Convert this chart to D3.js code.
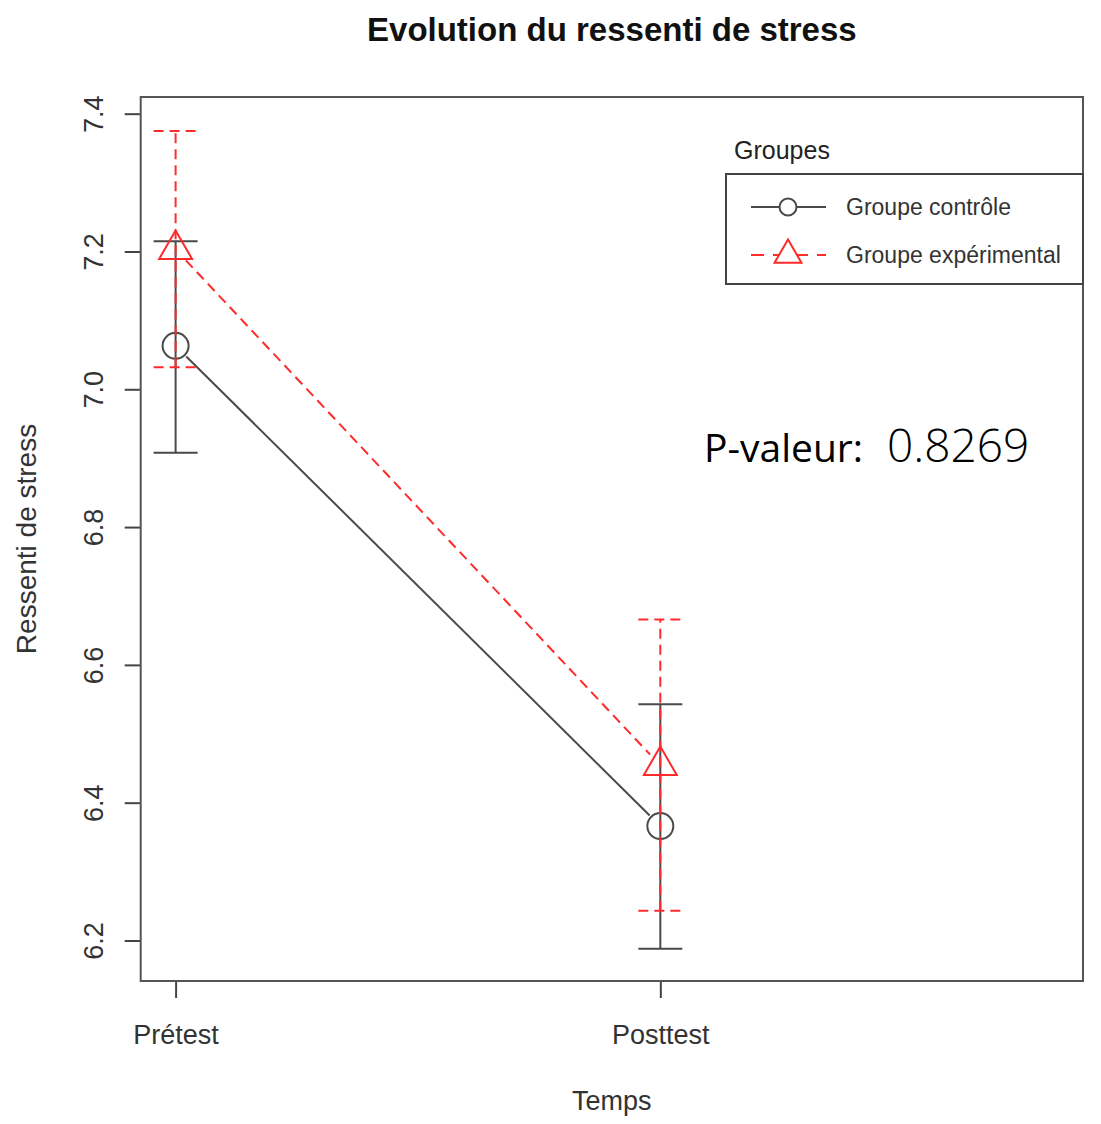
<!DOCTYPE html>
<html>
<head>
<meta charset="utf-8">
<script src="https://cdn.jsdelivr.net/npm/d3@7"></script>
<style>
  html, body { margin: 0; padding: 0; background: #fff; }
  svg { display: block; }
</style>
</head>
<body>
<svg id="chart" width="1101" height="1124"></svg>
<script>
// ---------- data ----------
const categories = ["Prétest", "Posttest"];
const groups = ["Groupe contrôle", "Groupe expérimental"];
const controlMean  = [7.063, 6.366];
const controlLower = [6.908, 6.188];
const controlUpper = [7.215, 6.543];
const expMean  = [7.203, 6.454];
const expLower = [7.032, 6.243];
const expUpper = [7.375, 6.666];
const yTicks = [6.2, 6.4, 6.6, 6.8, 7.0, 7.2, 7.4];
const title = "Evolution du ressenti de stress";
const xTitle = "Temps";
const yTitle = "Ressenti de stress";
const legendTitle = "Groupes";
const pValueLabel = "P-valeur:";
const pValue = "0.8269";

// ---------- layout ----------
const svg = d3.select("#chart");
const L = 140.7, R = 1083, T = 97, B = 981;
const FONT = "'Liberation Sans', Arial, Helvetica, sans-serif";
const TXT = "#333";
const CTRL = "#4a4a4a";
const RED = "#ff2a2a";

const x = d3.scaleLinear().domain([0.928, 2.872]).range([L, R]);
const y = d3.scaleLinear().domain([6.1412, 7.4242]).range([B, T]);

// title
svg.append("text")
  .attr("x", (L + R) / 2).attr("y", 41)
  .attr("text-anchor", "middle")
  .style("font-family", FONT).style("font-weight", "bold")
  .style("font-size", "33px").attr("fill", "#111")
  .text(title);

// y axis
const yAxis = svg.append("g")
  .attr("transform", `translate(${L},0)`)
  .call(d3.axisLeft(y).tickValues(yTicks).tickFormat(d3.format(".1f")).tickSize(16));
yAxis.select(".domain").remove();
yAxis.selectAll(".tick line").attr("stroke", "#444").attr("stroke-width", 2);
yAxis.selectAll(".tick text")
  .attr("x", 0).attr("y", 0).attr("dy", 0)
  .attr("text-anchor", "middle")
  .attr("transform", "translate(-38,0) rotate(-90)")
  .attr("fill", TXT)
  .style("font-family", FONT).style("font-size", "27px");

// x axis
const xAxis = svg.append("g")
  .attr("transform", `translate(0,${B})`)
  .call(d3.axisBottom(x).tickValues([1, 2]).tickFormat(i => categories[i - 1]).tickSize(17));
xAxis.select(".domain").remove();
xAxis.selectAll(".tick line").attr("stroke", "#444").attr("stroke-width", 2);
xAxis.selectAll(".tick text")
  .attr("y", 63).attr("dy", 0)
  .attr("fill", TXT)
  .style("font-family", FONT).style("font-size", "27px");

// axis titles
svg.append("text")
  .attr("x", (L + R) / 2).attr("y", 1110)
  .attr("text-anchor", "middle").attr("fill", TXT)
  .style("font-family", FONT).style("font-size", "27px")
  .text(xTitle);
svg.append("text")
  .attr("transform", `translate(36,${(T + B) / 2}) rotate(-90)`)
  .attr("text-anchor", "middle").attr("fill", TXT)
  .style("font-family", FONT).style("font-size", "28px")
  .text(yTitle);

// plot box
svg.append("rect")
  .attr("x", L).attr("y", T).attr("width", R - L).attr("height", B - T)
  .attr("fill", "none").attr("stroke", "#555").attr("stroke-width", 2);

// helpers
function shortened(p0, p1, g0, g1) {
  const dx = p1[0] - p0[0], dy = p1[1] - p0[1];
  const len = Math.hypot(dx, dy);
  const ux = dx / len, uy = dy / len;
  return [[p0[0] + ux * g0, p0[1] + uy * g0], [p1[0] - ux * g1, p1[1] - uy * g1]];
}
function trianglePath(cx, cy, u) {
  const r = 1.5551 * u, xc = 1.3468 * u, yc = 0.7776 * u;
  return `M${cx},${cy - r}L${cx + xc},${cy + yc}L${cx - xc},${cy + yc}Z`;
}

function drawSeries(mean, lower, upper, color, dash, marker) {
  const g = svg.append("g");
  const capW = 22;
  mean.forEach((m, i) => {
    const cx = x(i + 1);
    g.append("line").attr("x1", cx).attr("x2", cx)
      .attr("y1", y(lower[i])).attr("y2", y(upper[i]))
      .attr("stroke", color).attr("stroke-width", 2).attr("stroke-dasharray", dash);
    [lower[i], upper[i]].forEach(v => {
      g.append("line").attr("x1", cx - capW).attr("x2", cx + capW)
        .attr("y1", y(v)).attr("y2", y(v))
        .attr("stroke", color).attr("stroke-width", 2).attr("stroke-dasharray", dash);
    });
  });
  for (let i = 0; i < mean.length - 1; i++) {
    const seg = shortened([x(i + 1), y(mean[i])], [x(i + 2), y(mean[i + 1])], 15, 15);
    g.append("line")
      .attr("x1", seg[0][0]).attr("y1", seg[0][1])
      .attr("x2", seg[1][0]).attr("y2", seg[1][1])
      .attr("stroke", color).attr("stroke-width", 2).attr("stroke-dasharray", dash);
  }
  mean.forEach((m, i) => {
    if (marker === "circle") {
      g.append("circle").attr("cx", x(i + 1)).attr("cy", y(m)).attr("r", 13)
        .attr("fill", "none").attr("stroke", color).attr("stroke-width", 2);
    } else {
      g.append("path").attr("d", trianglePath(x(i + 1), y(m), 12.2))
        .attr("fill", "none").attr("stroke", color).attr("stroke-width", 2);
    }
  });
}

drawSeries(controlMean, controlLower, controlUpper, CTRL, null, "circle");
drawSeries(expMean, expLower, expUpper, RED, "10,6", "triangle");

// legend
svg.append("text")
  .attr("x", 734).attr("y", 159).attr("fill", "#222")
  .style("font-family", FONT).style("font-size", "25px")
  .text(legendTitle);
svg.append("rect")
  .attr("x", 726).attr("y", 174).attr("width", R - 726).attr("height", 110)
  .attr("fill", "#fff").attr("stroke", "#444").attr("stroke-width", 2);
const legY = [207, 255];
// control entry
svg.append("line").attr("x1", 751).attr("x2", 826).attr("y1", legY[0]).attr("y2", legY[0])
  .attr("stroke", CTRL).attr("stroke-width", 2);
svg.append("circle").attr("cx", 788).attr("cy", legY[0]).attr("r", 8.5)
  .attr("fill", "#fff").attr("stroke", CTRL).attr("stroke-width", 2);
// experimental entry
svg.append("line").attr("x1", 751).attr("x2", 826).attr("y1", legY[1]).attr("y2", legY[1])
  .attr("stroke", RED).attr("stroke-width", 2).attr("stroke-dasharray", "13,9");
svg.append("path").attr("d", trianglePath(788, legY[1], 10))
  .attr("fill", "#fff").attr("stroke", RED).attr("stroke-width", 2);
groups.forEach((gname, i) => {
  svg.append("text")
    .attr("x", 846).attr("y", legY[i] + 8).attr("fill", TXT)
    .style("font-family", FONT).style("font-size", "23px")
    .text(gname);
});

// p-value annotation
const pv = svg.append("text")
  .attr("x", 704).attr("y", 462).attr("fill", "#000")
  .style("font-family", "'Open Sans', 'Noto Sans', sans-serif")
  .style("font-size", "39px").style("font-weight", "400");
pv.append("tspan").text(pValueLabel);
pv.append("tspan").attr("dx", 24).style("font-size", "46px").style("font-weight", "300").text(pValue);
</script>
</body>
</html>
